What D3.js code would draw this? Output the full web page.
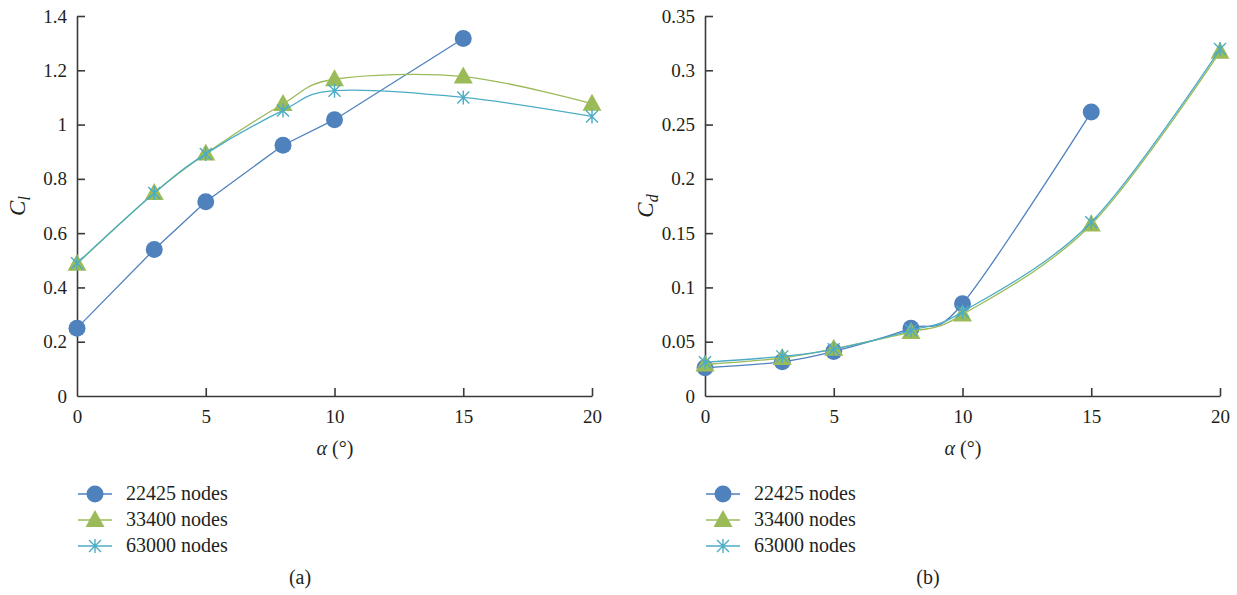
<!DOCTYPE html>
<html>
<head>
<meta charset="utf-8">
<script src="https://cdn.jsdelivr.net/npm/d3@7"></script>
<style>
  body { margin: 0; background: #fff; }
  svg text { font-family: "Liberation Serif", "Times New Roman", Tinos, "Noto Serif", "DejaVu Serif", serif; fill: #231f20; }
</style>
</head>
<body>
<svg id="chart" width="1237" height="595"></svg>
<script>
// angle of attack (deg)
const alpha = [0, 3, 5, 8, 10, 15, 20];
const seriesNames = ["22425 nodes", "33400 nodes", "63000 nodes"];

// lift coefficient, panel (a)
const cl22425 = [0.25, 0.54, 0.716, 0.924, 1.018, 1.317];
const cl33400 = [0.487, 0.748, 0.893, 1.076, 1.167, 1.177, 1.077];
const cl63000 = [0.489, 0.748, 0.892, 1.052, 1.125, 1.1, 1.03];

// drag coefficient, panel (b)
const cd22425 = [0.026, 0.0315, 0.041, 0.0625, 0.085, 0.2615];
const cd33400 = [0.029, 0.035, 0.0435, 0.059, 0.075, 0.158, 0.317];
const cd63000 = [0.031, 0.0365, 0.043, 0.0605, 0.0775, 0.16, 0.3195];

const clTicks = [0, 0.2, 0.4, 0.6, 0.8, 1, 1.2, 1.4];
const cdTicks = [0, 0.05, 0.1, 0.15, 0.2, 0.25, 0.3, 0.35];
const xTicks = [0, 5, 10, 15, 20];

// colours
const colors = ["#4f81bd", "#9bbb59", "#4bacc6"];
const markers = ["circle", "triangle", "star"];

const svg = d3.select("#chart");

function drawMarker(g, type, x, y, color) {
  if (type === "circle") {
    g.append("circle").attr("cx", x).attr("cy", y).attr("r", 8.5).attr("fill", color);
  } else if (type === "triangle") {
    g.append("path")
      .attr("d", `M${x},${y - 10}L${x + 9.5},${y + 7}L${x - 9.5},${y + 7}Z`)
      .attr("fill", color);
  } else {
    const s = 6;
    g.append("path")
      .attr("d", `M${x},${y - s - 1}V${y + s + 1}M${x - s},${y - s}L${x + s},${y + s}M${x - s},${y + s}L${x + s},${y - s}`)
      .attr("stroke", color).attr("stroke-width", 1.4).attr("fill", "none");
  }
}

function panel(opts) {
  const x = d3.scaleLinear().domain([0, 20]).range([opts.left, opts.left + 515]);
  const y = d3.scaleLinear().domain([0, opts.ymax]).range([396, 16]);
  const g = svg.append("g");

  // axes (ticks point inward)
  const yAxis = g.append("g")
    .attr("transform", `translate(${opts.left},0)`)
    .call(d3.axisLeft(y).tickValues(opts.yTicks).tickSizeInner(-8).tickSizeOuter(0)
      .tickPadding(10).tickFormat(d3.format("~g")));
  const xAxis = g.append("g")
    .attr("transform", "translate(0,396)")
    .call(d3.axisBottom(x).tickValues(xTicks).tickSizeInner(-8).tickSizeOuter(0)
      .tickPadding(14));
  [xAxis, yAxis].forEach(a => {
    a.attr("font-family", null);
    a.selectAll("path, line").attr("stroke", "#3a3a3a").attr("stroke-width", 1.6);
    a.selectAll("text").attr("font-size", 19).attr("fill", "#231f20");
  });
  xAxis.selectAll("line").filter(d => d === 0).remove();
  yAxis.selectAll("line").filter(d => d === 0).remove();

  // axis titles
  const xt = g.append("text").attr("x", opts.left + 258).attr("y", 455)
    .attr("text-anchor", "middle").attr("font-size", 20);
  xt.append("tspan").attr("font-style", "italic").text("α");
  xt.append("tspan").text(" (°)");
  const yt = g.append("text")
    .attr("transform", `translate(${opts.left - 52},206) rotate(-90)`)
    .attr("text-anchor", "middle").attr("font-size", 23);
  yt.append("tspan").attr("font-style", "italic").text("C");
  yt.append("tspan").attr("font-style", "italic").attr("font-size", 16)
    .attr("dy", 5).text(opts.sub);

  // series
  opts.series.forEach((vals, i) => {
    const pts = vals.map((v, k) => [alpha[k], v]);
    const curve = (opts.linearFirst && i === 0) ? d3.curveLinear : d3.curveCatmullRom.alpha(0);
    const line = d3.line().x(d => x(d[0])).y(d => y(d[1])).curve(curve);
    const sg = g.append("g");
    sg.append("path").attr("d", line(pts)).attr("fill", "none")
      .attr("stroke", colors[i]).attr("stroke-width", 1.3);
    pts.forEach(p => drawMarker(sg, markers[i], x(p[0]), y(p[1]), colors[i]));
  });

  // legend
  const lg = g.append("g");
  seriesNames.forEach((name, i) => {
    const ly = 494 + i * 26;
    lg.append("line").attr("x1", opts.left + 1).attr("x2", opts.left + 35)
      .attr("y1", ly).attr("y2", ly).attr("stroke", colors[i]).attr("stroke-width", 1.5);
    drawMarker(lg, markers[i], opts.left + 18, ly, colors[i]);
    lg.append("text").attr("x", opts.left + 49).attr("y", ly + 6)
      .attr("font-size", 20).text(name);
  });

  g.append("text").attr("x", opts.left + 223).attr("y", 584)
    .attr("text-anchor", "middle").attr("font-size", 20).text(opts.label);
}

panel({ left: 77, ymax: 1.4, yTicks: clTicks, sub: "l", label: "(a)",
  series: [cl22425, cl33400, cl63000], linearFirst: true });
panel({ left: 705, ymax: 0.35, yTicks: cdTicks, sub: "d", label: "(b)",
  series: [cd22425, cd33400, cd63000], linearFirst: false });
</script>
</body>
</html>
